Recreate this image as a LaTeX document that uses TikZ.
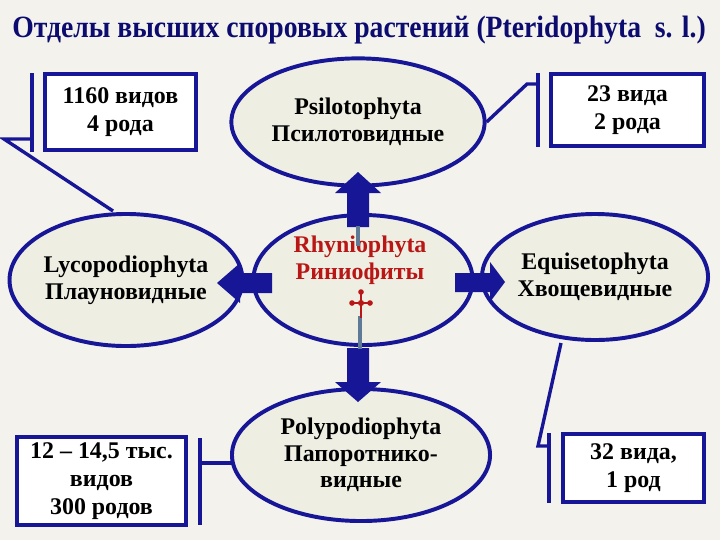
\documentclass[tikz,border=0pt]{standalone}
\usepackage{fontspec}
\setmainfont{Liberation Serif}
\usetikzlibrary{calc}
\usetikzlibrary{shapes.geometric}
\usetikzlibrary{positioning}

\definecolor{navy}{RGB}{22,22,150}
\definecolor{titleblue}{RGB}{12,12,112}
\definecolor{bgcream}{RGB}{243,242,236}
\definecolor{ellfill}{RGB}{238,238,226}
\definecolor{rhyred}{RGB}{185,22,22}
\definecolor{stemgray}{RGB}{95,122,150}

\begin{document}
\begin{tikzpicture}[x=0.025cm,y=-0.025cm,
  division/.style={ellipse,draw=navy,line width=2.8pt,fill=ellfill,inner sep=0pt,align=center,font=\bfseries\fontsize{17}{19}\selectfont},
  countbox/.style={rectangle,draw=navy,line width=2.8pt,fill=white,inner sep=0pt,align=center,font=\bfseries\fontsize{17}{20}\selectfont},
  calloutbar/.style={draw=navy,line width=3pt},
  calloutline/.style={draw=navy,line width=2.4pt,line join=miter},
  blockarrow/.style={fill=navy}]

\coordinate (ORIGIN) at (0,0);
\fill[bgcream] (ORIGIN) rectangle (720,540);
\useasboundingbox (ORIGIN) rectangle (720,540);

%title
\node[text=titleblue,font=\bfseries\fontsize{22}{24}\selectfont] at ($(ORIGIN)+(359,30)$) (title) {\scalebox{0.895}[1]{Отделы высших споровых растений (Pteridophyta\ \ s. l.)}};

%draw the five divisions
\node[division,minimum width=6.33cm,minimum height=3.18cm] at ($(ORIGIN)+(358,122)$) (psilo) {Psilotophyta\\Псилотовидные};
\node[division,minimum width=5.78cm,minimum height=3.3cm] at ($(ORIGIN)+(126,280)$) (lycopo) {Lycopodiophyta\\Плауновидные};
\node[division,minimum width=5.65cm,minimum height=3.15cm] at ($(ORIGIN)+(595,277)$) (equis) {Equisetophyta\\Хвощевидные};
\node[division,minimum width=6.45cm,minimum height=3.3cm] at ($(ORIGIN)+(361,455)$) (polypo) {Polypodiophyta\\Папоротнико-\\видные};
\node[division,minimum width=5.48cm,minimum height=3.25cm] at ($(ORIGIN)+(363,280)$) (rhynio) {};
\node[text=rhyred,font=\bfseries\fontsize{17}{19}\selectfont,align=center] at ($(ORIGIN)+(360,260)$) (rhyniotext) {Rhyniophyta\\Риниофиты};

%block arrows out of Rhyniophyta
\fill[blockarrow] (347,227) -- (347,193) -- (335,193) -- (358,172) -- (381,193) -- (369,193) -- (369,227) -- cycle;
\fill[blockarrow] (347,348) -- (347,382) -- (335,382) -- (358,402) -- (381,382) -- (369,382) -- (369,348) -- cycle;
\fill[blockarrow] (272,273) -- (240,273) -- (240,263) -- (217,283) -- (240,303) -- (240,293) -- (272,293) -- cycle;
\fill[blockarrow] (455,273) -- (490,273) -- (490,262) -- (505,282) -- (490,302) -- (490,292) -- (455,292) -- cycle;

%stems and the cross
\draw[stemgray,line width=2.6pt] (358,226) -- (358,246);
\draw[stemgray,line width=2.8pt] (360,316) -- (360,349);
\draw[rhyred,line width=1.6pt] (361,292) -- (361,318) (352,303) -- (370,303);
\fill[rhyred] (361,292) circle (2pt) (352,303) circle (2pt) (370,303) circle (2pt) (361,303) circle (2.2pt);

%number boxes
\node[countbox,minimum width=3.78cm,minimum height=1.9cm] at ($(ORIGIN)+(120.5,112)$) (lycocount) {1160 видов\\4 рода};
\node[countbox,minimum width=3.83cm,minimum height=1.8cm] at ($(ORIGIN)+(627.5,110)$) (psilocount) {23 вида\\2 рода};
\node[countbox,minimum width=4.23cm,minimum height=2.2cm] at ($(ORIGIN)+(101.5,481)$) (polycount) {12 – 14,5 тыс.\\видов\\300 родов};
\node[countbox,minimum width=3.53cm,minimum height=1.7cm] at ($(ORIGIN)+(633.5,468)$) (equicount) {32 вида,\\1 род};

%callout bars and pointers
\draw[calloutbar] (32,73) -- (32,152);
\draw[calloutbar] (538,73) -- (538,147);
\draw[calloutbar] (200,438) -- (200,525);
\draw[calloutbar] (549,433) -- (549,503);

\coordinate (LYCOBEND) at (4,139);
\coordinate (PSILOBEND) at (527,84);
\coordinate (EQUIBEND) at (538,446);
\draw[calloutline] (32,139) -- (LYCOBEND) -- (113,211);
\draw[calloutline] (538,84) -- (PSILOBEND) -- (psilo.east);
\draw[calloutline] (200,463) -- (232,463);
\draw[calloutline] (549,446) -- (EQUIBEND) -- (561,343);

\end{tikzpicture}
\end{document}
